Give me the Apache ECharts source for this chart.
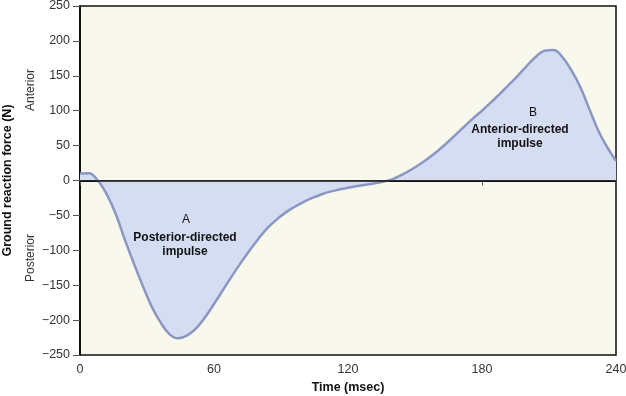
<!DOCTYPE html>
<html><head><meta charset="utf-8">
<script src="https://cdn.jsdelivr.net/npm/echarts@6/dist/echarts.min.js"></script>
<style>html,body{margin:0;padding:0;background:#fff}#c{width:626px;height:396px}</style>
</head><body><div id="c"></div>
<script>
var timeMs = [0, 4, 8, 12, 16, 20, 24, 28, 32, 36, 40, 44, 48, 52, 56, 60, 64, 68, 72, 76, 80, 84, 88, 92, 96, 100, 104, 108, 112, 116, 120, 124, 128, 132, 136, 140, 144, 148, 152, 156, 160, 164, 168, 172, 176, 180, 184, 188, 192, 196, 200, 204, 208, 212, 216, 220, 224, 228, 232, 236, 240];
var forceN = [10, 10.5, 0, -20, -48, -84, -118, -150, -180, -203, -220, -226, -222, -212, -196, -177, -157, -137, -118, -100, -83, -68, -56, -46, -38, -31, -25, -20, -16, -13, -10.5, -8, -6, -4, -1.5, 2, 8, 15, 23, 32, 42, 53, 65, 77, 89, 100, 112, 124, 137, 150, 164, 177, 186, 187, 177, 158, 134, 103, 72, 48, 28];
var xTicks = [0, 60, 120, 180, 240];
var yTicks = [-250, -200, -150, -100, -50, 0, 50, 100, 150, 200, 250];

var pts = timeMs.map(function(t, i){ return [t, forceN[i]]; });
var font = 'Liberation Sans, Arial, sans-serif';
var chart = echarts.init(document.getElementById('c'));
function txt(x, y, s, bold, rot, col){
  var o = {type: 'text', x: x, y: y, z: 100,
    style: {text: s, font: (bold ? 'bold ' : '') + '12px ' + font, fill: col || '#111', textAlign: 'center', textVerticalAlign: 'middle'}};
  if (rot) o.rotation = rot;
  return o;
}
chart.setOption({
  animation: false,
  grid: {left: 80, right: 10, top: 6, bottom: 41, show: true, backgroundColor: '#f8f9ec', borderColor: '#111', borderWidth: 1.5, containLabel: false, outerBoundsMode: 'none'},
  xAxis: {
    type: 'value', min: 0, max: 240, interval: 60,
    axisLine: {show: true, lineStyle: {color: '#111', width: 2}},
    axisTick: {show: true, length: 5, lineStyle: {color: '#555'}},
    axisLabel: {color: '#333', fontSize: 12.5, fontFamily: font, margin: 8},
    splitLine: {show: false},
    name: 'Time (msec)', nameLocation: 'middle', nameGap: 26,
    nameTextStyle: {fontWeight: 'bold', fontSize: 12.5, color: '#111', fontFamily: font}
  },
  yAxis: {
    type: 'value', min: -250, max: 250, interval: 50,
    axisLine: {show: true, lineStyle: {color: '#111', width: 2}},
    axisTick: {show: true, length: 7, lineStyle: {color: '#555'}},
    axisLabel: {color: '#333', fontSize: 12.5, fontFamily: font, margin: 10,
      formatter: function(v){ return v < 0 ? '\u2212' + Math.abs(v) : String(v); }},
    splitLine: {show: false},
    name: 'Ground reaction force (N)', nameLocation: 'middle', nameGap: 66, nameRotate: 90,
    nameTextStyle: {fontWeight: 'bold', fontSize: 12.5, color: '#111', fontFamily: font}
  },
  series: [{
    type: 'line', data: pts, smooth: 0.4, symbol: 'none',
    lineStyle: {color: '#8a97c2', width: 2.5},
    areaStyle: {color: '#d4ddf2', opacity: 1, origin: 0},
    markLine: {silent: true, symbol: 'none', label: {show: false},
      lineStyle: {color: '#111', width: 1.5, type: 'solid'},
      data: [{yAxis: 0}]},
    z: 2
  }],
  graphic: [
    txt(31, 90, 'Anterior', false, Math.PI/2, '#333'),
    txt(31, 258, 'Posterior', false, Math.PI/2, '#333'),
    txt(186, 220, 'A', false),
    txt(185, 238, 'Posterior-directed', true),
    txt(185, 252, 'impulse', true),
    txt(533, 113, 'B', false),
    txt(520, 130, 'Anterior-directed', true),
    txt(520, 144, 'impulse', true)
  ]
});
</script></body></html>
